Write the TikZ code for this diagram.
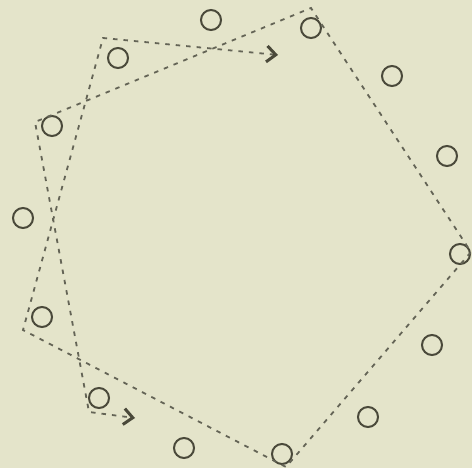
\documentclass[tikz,border=0pt]{standalone}
\usetikzlibrary{arrows.meta}
\definecolor{bg}{RGB}{228,228,202}
\definecolor{ring}{RGB}{74,73,58}
\definecolor{trace}{RGB}{100,100,86}
\begin{document}
\begin{tikzpicture}[x=1pt,y=-1pt,
  pt/.style={circle,draw=ring,line width=2pt,minimum size=20pt,inner sep=0pt},
  barb/.tip={Straight Barb[length=9pt,width=16pt,line width=3pt,color=ring]},
  route/.style={draw=trace,line width=1.8pt,dash pattern=on 4.5pt off 6pt,line join=miter,
    barb-barb}]
\fill[bg] (0,0) rectangle (472,468);
\useasboundingbox (0,0) rectangle (472,468);
% points
\node[pt] (p1) at (211,20) {};
\node[pt] (p2) at (118,58) {};
\node[pt] (p3) at (311,28) {};
\node[pt] (p4) at (392,76) {};
\node[pt] (p5) at (52,126) {};
\node[pt] (p6) at (447,156) {};
\node[pt] (p7) at (23,218) {};
\node[pt] (p8) at (460,254) {};
\node[pt] (p9) at (42,317) {};
\node[pt] (p10) at (432,345) {};
\node[pt] (p11) at (99,398) {};
\node[pt] (p12) at (368,417) {};
\node[pt] (p13) at (184,448) {};
\node[pt] (p14) at (282,454) {};
% corners of the route
\coordinate (s) at (278,55);
\coordinate (c2) at (103,38);
\coordinate (c9) at (23,330);
\coordinate (c14) at (286,467);
\coordinate (c8) at (471,252);
\coordinate (c3) at (311,8);
\coordinate (c5) at (35,122);
\coordinate (c11) at (89,412);
\coordinate (e) at (135,418);
\draw[route] (s) -- (c2) -- (c9) -- (c14) -- (c8) -- (c3) -- (c5) -- (c11) -- (e);
\end{tikzpicture}
\end{document}
